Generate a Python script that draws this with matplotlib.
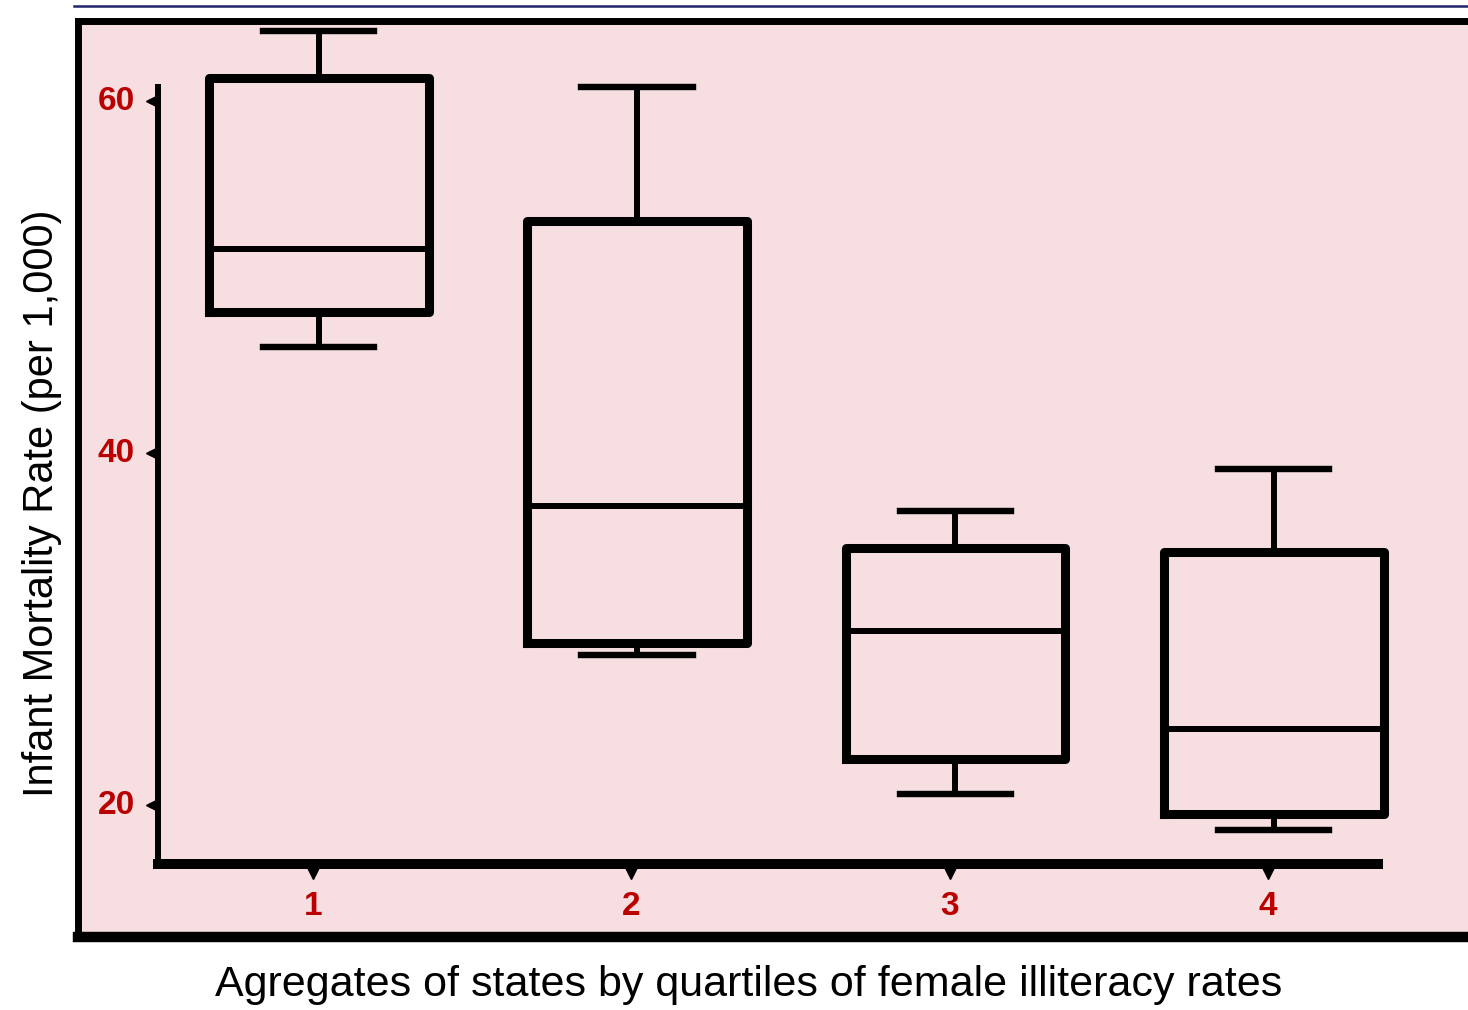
import matplotlib
matplotlib.use("Agg")
import matplotlib.pyplot as plt
from matplotlib.lines import Line2D

# box statistics (infant mortality per 1,000)
groups = [1, 2, 3, 4]
whisker_low = [46.0, 28.5, 20.6, 18.6]
q1 = [48.0, 29.2, 22.6, 19.5]
medians = [51.6, 37.0, 29.9, 24.3]
q3 = [61.3, 53.2, 34.6, 34.4]
whisker_high = [64.0, 60.8, 36.7, 39.1]
yticks = [20, 40, 60]

W, H = 1468, 1010
fig = plt.figure(figsize=(W / 100, H / 100), dpi=100)

pink = "#F6DEE1"
red = "#BB0000"
sans = ["Liberation Sans Narrow", "Liberation Sans", "DejaVu Sans"]

# background panel with heavy black frame
bg = fig.add_axes([78 / W, (H - 937) / H, (W - 78) / W, (937 - 21) / H])
bg.set_facecolor(pink)
bg.set_xticks([])
bg.set_yticks([])
bg.spines["right"].set_visible(False)
bg.spines["left"].set_linewidth(5)
bg.spines["top"].set_linewidth(5)
bg.spines["bottom"].set_linewidth(7.5)

# thin navy rule at the very top
fig.add_artist(Line2D([74 / W, 1.0], [(H - 6) / H] * 2, color="#23236E", lw=1.8))

# main plotting axes
left_px, right_px, bottom_px, top_px = 158, 1378, 864, 20
ax = fig.add_axes([left_px / W, (H - bottom_px) / H,
                   (right_px - left_px) / W, (bottom_px - top_px) / H])
ax.patch.set_alpha(0)

stats = []
for i in range(len(groups)):
    stats.append(dict(whislo=whisker_low[i], q1=q1[i], med=medians[i],
                      q3=q3[i], whishi=whisker_high[i], fliers=[]))

# boxes sit a few pixels right of their tick marks in the original
nudge = 0.018
ax.bxp(stats, positions=[g + nudge for g in groups], widths=0.69,
       capwidths=0.35, showfliers=False,
       boxprops=dict(color="black", linewidth=6.5),
       whiskerprops=dict(color="black", linewidth=4.3),
       capprops=dict(color="black", linewidth=4.6),
       medianprops=dict(color="black", linewidth=4.3))
for art in ax.get_children():
    if isinstance(art, Line2D):
        art.set_clip_on(False)

y0 = 60 - (bottom_px - 101) / 17.6
y1 = 60 + (101 - top_px) / 17.6
ax.set_ylim(y0, y1)
ax.set_xlim(1 - (313 - left_px) / 318.3, 4 + (right_px - 1268) / 318.3)

for s in ["top", "right"]:
    ax.spines[s].set_visible(False)
ax.spines["left"].set_linewidth(4.3)
ax.spines["bottom"].set_linewidth(7.2)
ax.spines["left"].set_bounds(y0, 60.8)

# outward triangle tick marks
ax.set_xticks(groups)
ax.set_yticks(yticks)
ax.tick_params(length=0, pad=0)
ax.set_xticklabels([])
ax.set_yticklabels([])
xmin = ax.get_xlim()[0]
ax.plot([xmin - 0.02] * len(yticks), yticks, marker="<", ls="none",
        color="black", ms=9, clip_on=False)
ax.plot(groups, [y0 - 0.5] * len(groups), marker="v", ls="none",
        color="black", ms=9, clip_on=False)
for v in yticks:
    ax.text(xmin - 0.072, v, str(v), ha="right", va="center", color=red,
            fontsize=24, fontweight="bold", family=["Liberation Sans", "DejaVu Sans"])
for g in groups:
    ax.text(g, y0 - 2.4, str(g), ha="center", va="center", color=red,
            fontsize=24, fontweight="bold", family=["Liberation Sans", "DejaVu Sans"])

fig.text(42 / W, (H - 503) / H, "Infant Mortality Rate (per 1,000)",
         rotation=90, ha="center", va="center", fontsize=30, family=sans)
fig.text(749 / W, (H - 985) / H,
         "Agregates of states by quartiles of female illiteracy rates",
         ha="center", va="center", fontsize=31, family=sans)

fig.savefig("out.png", dpi=100)
